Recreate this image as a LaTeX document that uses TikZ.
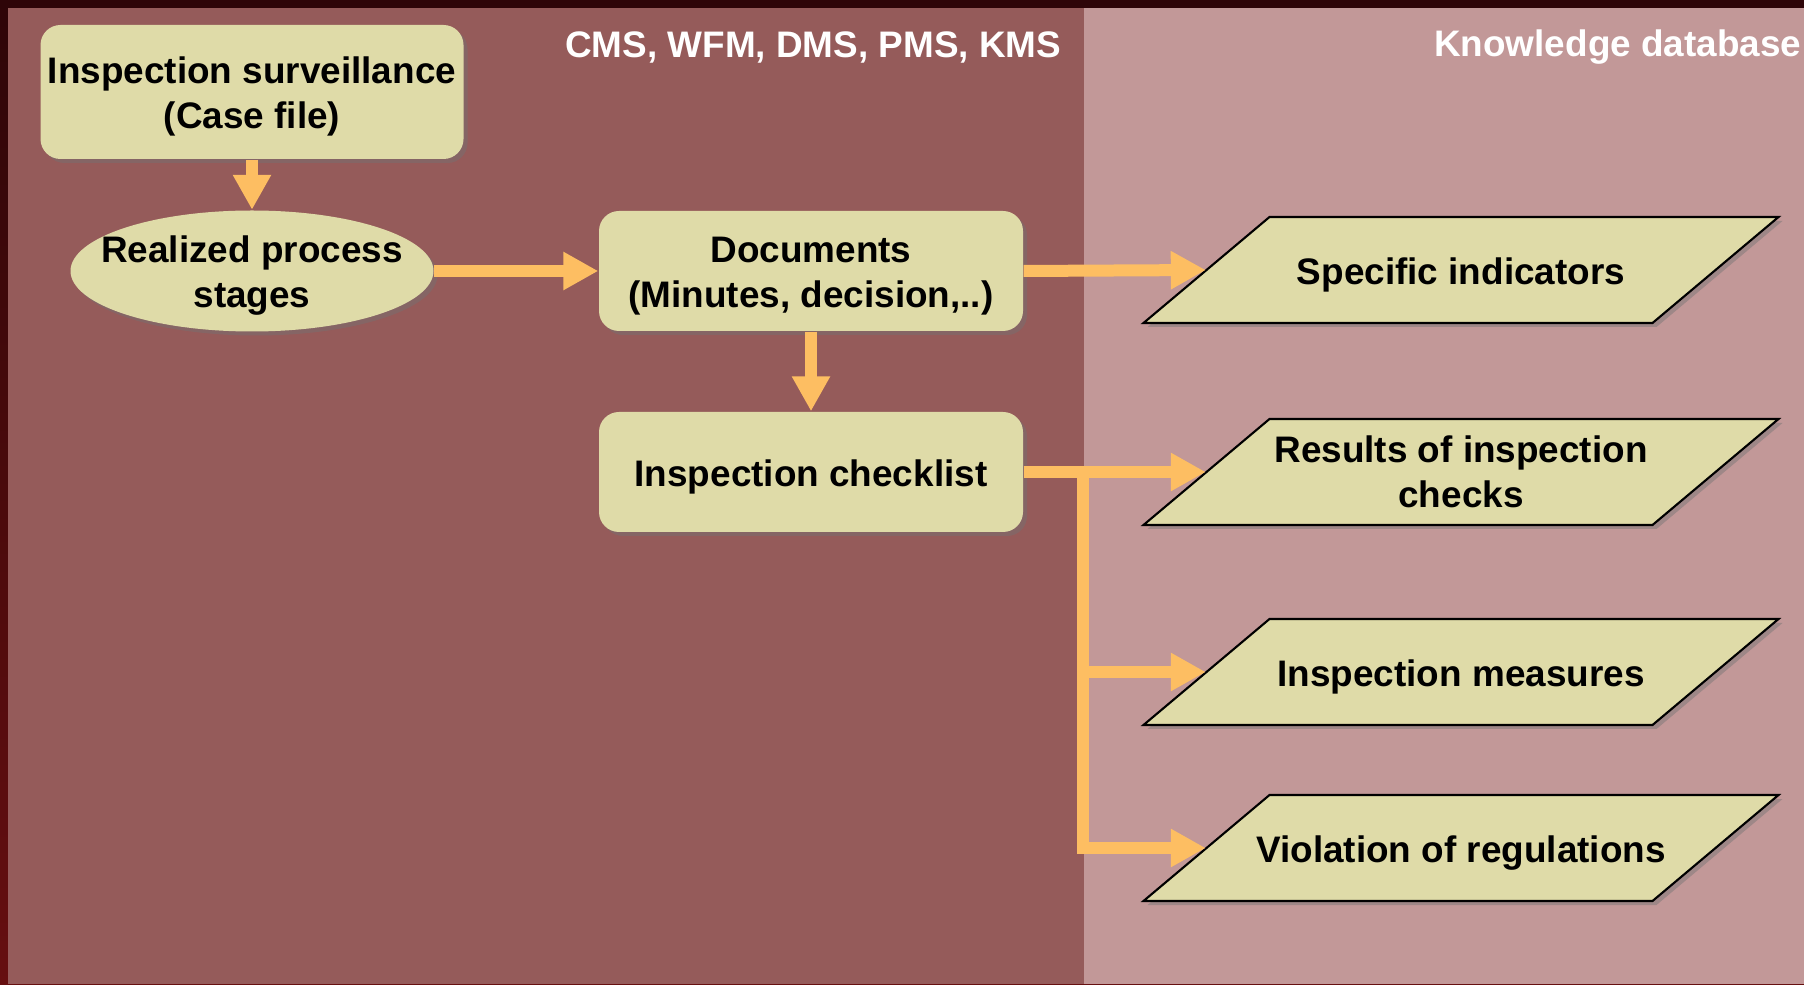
\documentclass[tikz,border=0pt]{standalone}
\usepackage{fontspec}
\setmainfont{Liberation Sans}
\usetikzlibrary{arrows.meta,calc,shapes.geometric,shadows}
\definecolor{framedark}{RGB}{46,5,8}
\definecolor{framered}{RGB}{102,15,16}
\definecolor{leftpanel}{RGB}{149,91,90}
\definecolor{rightpanel}{RGB}{194,152,152}
\definecolor{boxfill}{RGB}{223,219,168}
\definecolor{flowc}{RGB}{253,190,98}
\newcommand\lift{\rule{0pt}{10.2pt}}
\def\storeshape(#1){\filldraw[storeline] ($(#1)+(-3.175,-0.53)$) -- ($(#1)+(-1.915,0.53)$) -- ($(#1)+(3.175,0.53)$) -- ($(#1)+(1.915,-0.53)$) -- cycle;}
\tikzset{
	dshadow/.style={drop shadow={shadow xshift=0.04cm, shadow yshift=-0.04cm, fill=black!55, opacity=0.45}},
	cardtext/.style={align=center, inner sep=0pt, font=\bfseries\fontsize{10.5}{12.8}\selectfont, execute at begin node=\lift},
	card/.style={cardtext, fill=boxfill, dshadow},
	roundbox/.style={card, rounded corners=0.2cm, minimum width=4.24cm, minimum height=1.2cm},
	stage/.style={card, ellipse, inner xsep=-0.25cm, inner ysep=-0.05cm, minimum width=3.63cm, minimum height=1.21cm},
	storeline/.style={fill=boxfill, draw=black, line width=0.6pt, line join=miter, dshadow},
	storetext/.style={cardtext, minimum width=5.09cm, minimum height=1.06cm},
	header/.style={text=white, inner sep=0pt, font=\bfseries\fontsize{10.5}{12.8}\selectfont},
	flow/.style={draw=flowc, line width=0.12cm, -{Triangle[width=0.36cm, length=0.35cm]}}
}
\begin{document}
\begin{tikzpicture}
	%%%%% START %%%%%
	\useasboundingbox (0, 0) rectangle (18.04, 9.84);
	
	\shade[top color=framedark, bottom color=framered] (0, 0) rectangle (18.04, 9.84);
	\fill[leftpanel] (0.08, 0) rectangle (10.84, 9.76);
	\fill[rightpanel] (10.84, 0) rectangle (18.04, 9.76);
	
	\node[header, anchor=east] (sysname) at (10.62, 9.37) {CMS, WFM, DMS, PMS, KMS};
	\node[header, anchor=east] (kdb) at (18.02, 9.37) {Knowledge database};
	
	\node[roundbox, minimum width=4.23cm, minimum height=1.34cm] (surv) at (2.52, 8.92) {\lift Inspection surveillance\\(Case file)};
	\node[stage] (stages) at (2.52, 7.13) {\lift Realized process\\stages};
	\node[roundbox] (docs) at (8.11, 7.13) {\lift Documents\\(Minutes, decision,..)};
	\node[roundbox] (check) at (8.11, 5.12) {Inspection checklist};
	
	\coordinate (specpos) at (14.61, 7.14);
	\coordinate (respos) at (14.61, 5.12);
	\coordinate (measpos) at (14.61, 3.12);
	\coordinate (violpos) at (14.61, 1.36);
	\storeshape(specpos)
	\storeshape(respos)
	\storeshape(measpos)
	\storeshape(violpos)
	\node[storetext] (spec) at (specpos) {Specific indicators};
	\node[storetext] (res) at (respos) {Results of inspection\\checks};
	\node[storetext] (meas) at (measpos) {Inspection measures};
	\node[storetext] (viol) at (violpos) {Violation of regulations};
	
	\draw[flow] (surv) -- (stages);
	\draw[flow] (stages) -- (docs);
	\draw[flow] (docs) -- (check);
	\draw[flow] (docs.east) -- (spec.west);
	\draw[flow] (check.east) -- (res.west);
	
	\coordinate (fork) at (10.83, 5.12);
	\draw[flow] (fork) |- (meas.west);
	\draw[flow] (fork) |- (viol.west);
	%%%%% END %%%%%
\end{tikzpicture}
\end{document}
